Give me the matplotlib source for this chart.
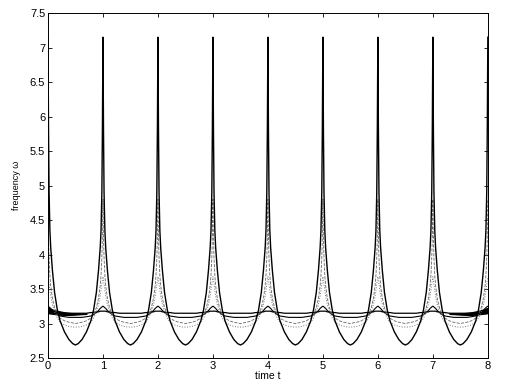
"""Frequency of the oscillators over time, a periodic family of curves."""

import numpy as np
import matplotlib.pyplot as plt

plt.rcParams['font.family'] = ['Liberation Sans', 'DejaVu Sans']

# phase inside one period (0 = spike, 0.5 = trough)
phase_half = [0, 0.005, 0.01, 0.02, 0.035, 0.05, 0.08, 0.12, 0.17, 0.22, 0.3, 0.38, 0.45, 0.5]
main_half = [7.15, 6.5, 5.8, 4.9, 4.35, 4.1, 3.78, 3.45, 3.2, 3.04, 2.88, 2.77, 2.71, 2.69]
dashed_half = [4.8, 4.5, 4.25, 3.95, 3.7, 3.55, 3.37, 3.23, 3.13, 3.08, 3.04, 3.02, 3.01, 3.0]
dotted_half = [3.68, 3.66, 3.63, 3.57, 3.48, 3.4, 3.28, 3.17, 3.08, 3.02, 2.98, 2.96, 2.95, 2.95]
bump_half = [3.25, 3.25, 3.25, 3.24, 3.23, 3.22, 3.19, 3.16, 3.13, 3.11, 3.1, 3.09, 3.09, 3.09]
flat_half = [3.18, 3.18, 3.18, 3.18, 3.18, 3.18, 3.17, 3.17, 3.16, 3.16, 3.15, 3.15, 3.15, 3.15]
n_periods = 8

# the thick jittery band at both ends of the run
band_t_left = [0, 0.1, 0.2, 0.3, 0.4, 0.5, 0.6, 0.7]
band_hi_left = [3.23, 3.2, 3.18, 3.165, 3.155, 3.15, 3.15, 3.15]
band_lo_left = [3.15, 3.14, 3.13, 3.125, 3.125, 3.13, 3.135, 3.14]
band_t_right = [7.3, 7.4, 7.5, 7.6, 7.7, 7.8, 7.9, 8.0]
band_hi_right = [3.15, 3.15, 3.15, 3.155, 3.165, 3.18, 3.2, 3.23]
band_lo_right = [3.14, 3.135, 3.13, 3.125, 3.125, 3.13, 3.14, 3.15]

yticks = [2.5, 3, 3.5, 4, 4.5, 5, 5.5, 6, 6.5, 7, 7.5]
ytick_labels = ['2.5', '3', '3.5', '4', '4.5', '5', '5.5', '6', '6.5', '7', '7.5']
xticks = [0, 1, 2, 3, 4, 5, 6, 7, 8]


def tile(half):
    # mirror the half period and repeat it over the run
    ph = np.array(phase_half)
    v = np.array(half)
    p_one = np.concatenate([ph, 1 - ph[::-1][1:]])
    v_one = np.concatenate([v, v[::-1][1:]])
    t = np.concatenate([p_one[:-1] + k for k in range(n_periods)] + [[n_periods]])
    y = np.concatenate([v_one[:-1] for k in range(n_periods)] + [[v_one[-1]]])
    return t, y


fig = plt.figure(figsize=(5.05, 3.83), dpi=100)
ax = fig.add_axes([0.095, 0.065, 0.871, 0.901])

ax.fill_between(band_t_left, band_lo_left, band_hi_left, color='black', lw=0.8)
ax.fill_between(band_t_right, band_lo_right, band_hi_right, color='black', lw=0.8)

t, y = tile(flat_half)
ax.plot(t, y, color='black', lw=0.9)
t, y = tile(bump_half)
ax.plot(t, y, color='black', lw=0.8)
t, y = tile(dotted_half)
ax.plot(t, y, color='#777777', lw=0.7, ls=':')
t, y = tile(dashed_half)
ax.plot(t, y, color='#666666', lw=0.6, ls='--')
t, y = tile(main_half)
ax.plot(t, y, color='black', lw=1.0)

ax.set_xlim(0, 8)
ax.set_ylim(2.5, 7.5)
ax.set_xticks(xticks)
ax.set_yticks(yticks)
ax.set_yticklabels(ytick_labels)
ax.tick_params(direction='in', length=3, width=0.6, labelsize=8, pad=2,
               top=True, right=True)
for s in ax.spines.values():
    s.set_linewidth(0.7)
ax.set_xlabel('time t', fontsize=7.5, labelpad=0)
ax.set_ylabel('frequency ω', fontsize=6.5, labelpad=6)

fig.savefig('out.png', dpi=100)
